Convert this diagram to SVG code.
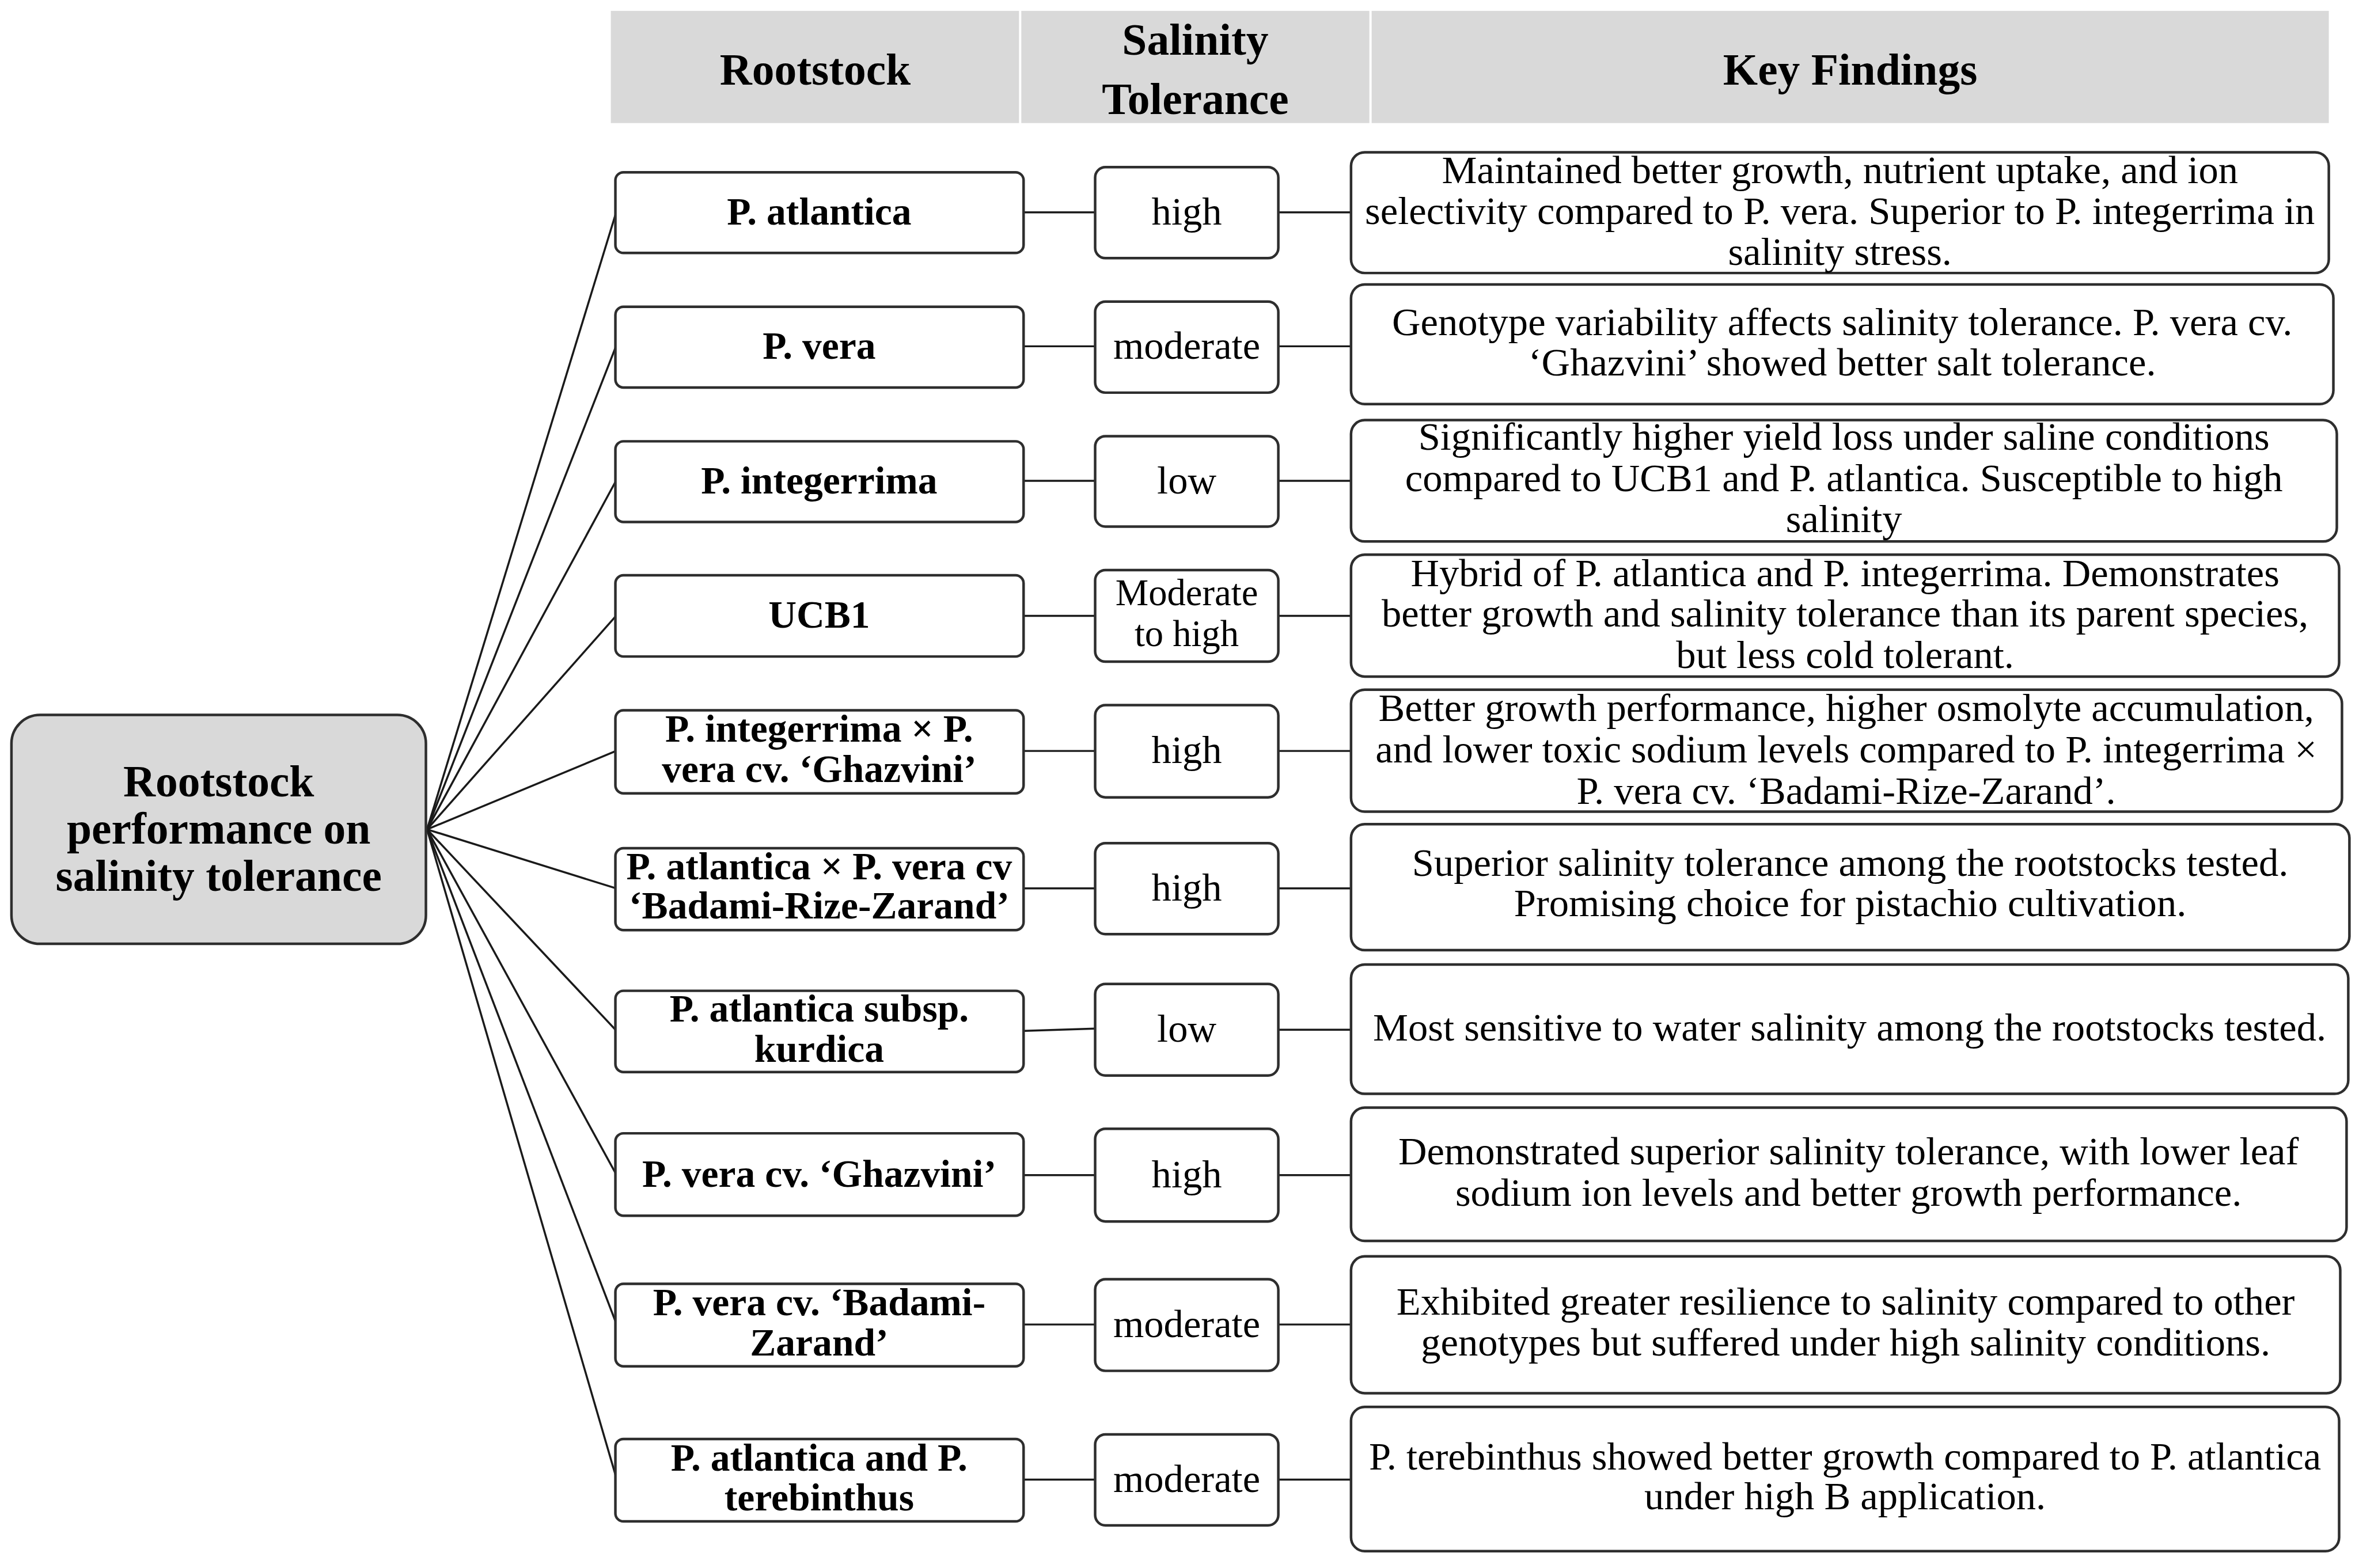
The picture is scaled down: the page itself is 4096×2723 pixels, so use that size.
<svg xmlns="http://www.w3.org/2000/svg" width="4096" height="2723" viewBox="0 0 4096 2723">
<style>
text{font-family:"Liberation Serif","Times New Roman",serif;fill:#000;text-anchor:middle}
.hd{font-size:78px;font-weight:bold}
.ct{font-size:78px;font-weight:bold}
.c1{font-size:68px;font-weight:bold}
.c2{font-size:69px}
.c2s{font-size:65px}
.c3{font-size:69px}
.hdr{fill:#d9d9d9}
.box{fill:#fff;stroke:#2e2e2e;stroke-width:4.5}
.cbox{fill:#d9d9d9;stroke:#2e2e2e;stroke-width:4.5}
.ln{stroke:#1a1a1a;stroke-width:3.5;fill:none}
</style>
<rect width="4096" height="2723" fill="#fff"/>
<g transform="scale(0.994)">
<g id="header">
<rect class="hdr" x="1067" y="19" width="713" height="196"/>
<rect class="hdr" x="1784" y="19" width="608" height="196"/>
<rect class="hdr" x="2396" y="19" width="1672" height="196"/>
<text class="hd" x="1424" y="148">Rootstock</text>
<text class="hd" x="2088" y="96">Salinity</text>
<text class="hd" x="2088" y="199">Tolerance</text>
<text class="hd" x="3232" y="148">Key Findings</text>
</g>
<g id="connectors">
<line class="ln" x1="746" y1="1449" x2="1076" y2="372"/>
<line class="ln" x1="746" y1="1449" x2="1076" y2="605"/>
<line class="ln" x1="746" y1="1449" x2="1076" y2="840"/>
<line class="ln" x1="746" y1="1449" x2="1076" y2="1076"/>
<line class="ln" x1="746" y1="1449" x2="1076" y2="1312"/>
<line class="ln" x1="746" y1="1449" x2="1076" y2="1552"/>
<line class="ln" x1="746" y1="1449" x2="1076" y2="1800"/>
<line class="ln" x1="746" y1="1449" x2="1076" y2="2051"/>
<line class="ln" x1="746" y1="1449" x2="1076" y2="2311"/>
<line class="ln" x1="746" y1="1449" x2="1076" y2="2580"/>
<line class="ln" x1="1788" y1="371" x2="1913" y2="371"/>
<line class="ln" x1="2233" y1="371" x2="2360" y2="371"/>
<line class="ln" x1="1788" y1="605" x2="1913" y2="605"/>
<line class="ln" x1="2233" y1="605" x2="2360" y2="605"/>
<line class="ln" x1="1788" y1="840" x2="1913" y2="840"/>
<line class="ln" x1="2233" y1="840" x2="2360" y2="840"/>
<line class="ln" x1="1788" y1="1076" x2="1913" y2="1076"/>
<line class="ln" x1="2233" y1="1076" x2="2360" y2="1076"/>
<line class="ln" x1="1788" y1="1312" x2="1913" y2="1312"/>
<line class="ln" x1="2233" y1="1312" x2="2360" y2="1312"/>
<line class="ln" x1="1788" y1="1552" x2="1913" y2="1552"/>
<line class="ln" x1="2233" y1="1552" x2="2360" y2="1552"/>
<line class="ln" x1="1788" y1="1801" x2="1913" y2="1797"/>
<line class="ln" x1="2233" y1="1799" x2="2360" y2="1799"/>
<line class="ln" x1="1788" y1="2053" x2="1913" y2="2053"/>
<line class="ln" x1="2233" y1="2053" x2="2360" y2="2053"/>
<line class="ln" x1="1788" y1="2314" x2="1913" y2="2314"/>
<line class="ln" x1="2233" y1="2314" x2="2360" y2="2314"/>
<line class="ln" x1="1788" y1="2585" x2="1913" y2="2585"/>
<line class="ln" x1="2233" y1="2585" x2="2360" y2="2585"/>
</g>
<g id="root">
<rect class="cbox" x="20" y="1249" width="724" height="400" rx="50"/>
<text class="ct" x="382" y="1391">Rootstock</text>
<text class="ct" x="382" y="1474">performance on</text>
<text class="ct" x="382" y="1556">salinity tolerance</text>
</g>
<g id="r1-stock"><rect class="box" x="1075" y="301" width="713" height="141" rx="14"/><text class="c1" x="1431" y="392">P. atlantica</text></g>
<g id="r1-tol"><rect class="box" x="1913" y="292" width="320" height="159" rx="18"/><text class="c2" x="2073" y="392">high</text></g>
<g id="r1-find"><rect class="box" x="2360" y="266" width="1708" height="211" rx="24"/>
<text class="c3" x="3214" y="320">Maintained better growth, nutrient uptake, and ion</text>
<text class="c3" x="3214" y="391">selectivity compared to P. vera. Superior to P. integerrima in</text>
<text class="c3" x="3214" y="463">salinity stress.</text></g>
<g id="r2-stock"><rect class="box" x="1075" y="536" width="713" height="141" rx="14"/><text class="c1" x="1431" y="627">P. vera</text></g>
<g id="r2-tol"><rect class="box" x="1913" y="527" width="320" height="159" rx="18"/><text class="c2" x="2073" y="627">moderate</text></g>
<g id="r2-find"><rect class="box" x="2360" y="497" width="1716" height="209" rx="24"/>
<text class="c3" x="3218" y="586">Genotype variability affects salinity tolerance. P. vera cv.</text>
<text class="c3" x="3218" y="656">‘Ghazvini’ showed better salt tolerance.</text></g>
<g id="r3-stock"><rect class="box" x="1075" y="771" width="713" height="141" rx="14"/><text class="c1" x="1431" y="862">P. integerrima</text></g>
<g id="r3-tol"><rect class="box" x="1913" y="762" width="320" height="158" rx="18"/><text class="c2" x="2073" y="862">low</text></g>
<g id="r3-find"><rect class="box" x="2360" y="734" width="1722" height="212" rx="24"/>
<text class="c3" x="3221" y="786">Significantly higher yield loss under saline conditions</text>
<text class="c3" x="3221" y="858">compared to UCB1 and P. atlantica. Susceptible to high</text>
<text class="c3" x="3221" y="930">salinity</text></g>
<g id="r4-stock"><rect class="box" x="1075" y="1005" width="713" height="142" rx="14"/><text class="c1" x="1431" y="1097">UCB1</text></g>
<g id="r4-tol"><rect class="box" x="1913" y="996" width="320" height="160" rx="18"/><text class="c2s" x="2073" y="1057">Moderate</text><text class="c2s" x="2073" y="1129">to high</text></g>
<g id="r4-find"><rect class="box" x="2360" y="969" width="1726" height="213" rx="24"/>
<text class="c3" x="3223" y="1024">Hybrid of P. atlantica and P. integerrima. Demonstrates</text>
<text class="c3" x="3223" y="1095">better growth and salinity tolerance than its parent species,</text>
<text class="c3" x="3223" y="1167">but less cold tolerant.</text></g>
<g id="r5-stock"><rect class="box" x="1075" y="1241" width="713" height="145" rx="14"/><text class="c1" x="1431" y="1296">P. integerrima × P.</text><text class="c1" x="1431" y="1366">vera cv. ‘Ghazvini’</text></g>
<g id="r5-tol"><rect class="box" x="1913" y="1232" width="320" height="161" rx="18"/><text class="c2" x="2073" y="1333">high</text></g>
<g id="r5-find"><rect class="box" x="2360" y="1205" width="1731" height="213" rx="24"/>
<text class="c3" x="3225" y="1260">Better growth performance, higher osmolyte accumulation,</text>
<text class="c3" x="3225" y="1332">and lower toxic sodium levels compared to P. integerrima ×</text>
<text class="c3" x="3225" y="1404">P. vera cv. ‘Badami-Rize-Zarand’.</text></g>
<g id="r6-stock"><rect class="box" x="1075" y="1482" width="713" height="143" rx="14"/><text class="c1" x="1431" y="1536">P. atlantica × P. vera cv</text><text class="c1" x="1431" y="1605">‘Badami-Rize-Zarand’</text></g>
<g id="r6-tol"><rect class="box" x="1913" y="1473" width="320" height="159" rx="18"/><text class="c2" x="2073" y="1573">high</text></g>
<g id="r6-find"><rect class="box" x="2360" y="1440" width="1744" height="220" rx="24"/>
<text class="c3" x="3232" y="1530">Superior salinity tolerance among the rootstocks tested.</text>
<text class="c3" x="3232" y="1601">Promising choice for pistachio cultivation.</text></g>
<g id="r7-stock"><rect class="box" x="1075" y="1731" width="713" height="142" rx="14"/><text class="c1" x="1431" y="1785">P. atlantica subsp.</text><text class="c1" x="1431" y="1855">kurdica</text></g>
<g id="r7-tol"><rect class="box" x="1913" y="1719" width="320" height="160" rx="18"/><text class="c2" x="2073" y="1820">low</text></g>
<g id="r7-find"><rect class="box" x="2360" y="1685" width="1742" height="226" rx="24"/>
<text class="c3" x="3231" y="1818">Most sensitive to water salinity among the rootstocks tested.</text></g>
<g id="r8-stock"><rect class="box" x="1075" y="1980" width="713" height="144" rx="14"/><text class="c1" x="1431" y="2073">P. vera cv. ‘Ghazvini’</text></g>
<g id="r8-tol"><rect class="box" x="1913" y="1972" width="320" height="162" rx="18"/><text class="c2" x="2073" y="2074">high</text></g>
<g id="r8-find"><rect class="box" x="2360" y="1935" width="1739" height="233" rx="24"/>
<text class="c3" x="3229" y="2034">Demonstrated superior salinity tolerance, with lower leaf</text>
<text class="c3" x="3229" y="2107">sodium ion levels and better growth performance.</text></g>
<g id="r9-stock"><rect class="box" x="1075" y="2243" width="713" height="144" rx="14"/><text class="c1" x="1431" y="2298">P. vera cv. ‘Badami-</text><text class="c1" x="1431" y="2368">Zarand’</text></g>
<g id="r9-tol"><rect class="box" x="1913" y="2235" width="320" height="160" rx="18"/><text class="c2" x="2073" y="2336">moderate</text></g>
<g id="r9-find"><rect class="box" x="2360" y="2195" width="1728" height="239" rx="24"/>
<text class="c3" x="3224" y="2297">Exhibited greater resilience to salinity compared to other</text>
<text class="c3" x="3224" y="2368">genotypes but suffered under high salinity conditions.</text></g>
<g id="r10-stock"><rect class="box" x="1075" y="2514" width="713" height="144" rx="14"/><text class="c1" x="1431" y="2569">P. atlantica and P.</text><text class="c1" x="1431" y="2639">terebinthus</text></g>
<g id="r10-tol"><rect class="box" x="1913" y="2506" width="320" height="159" rx="18"/><text class="c2" x="2073" y="2607">moderate</text></g>
<g id="r10-find"><rect class="box" x="2360" y="2458" width="1726" height="252" rx="24"/>
<text class="c3" x="3223" y="2567">P. terebinthus showed better growth compared to P. atlantica</text>
<text class="c3" x="3223" y="2637">under high B application.</text></g>
</g>
</svg>
